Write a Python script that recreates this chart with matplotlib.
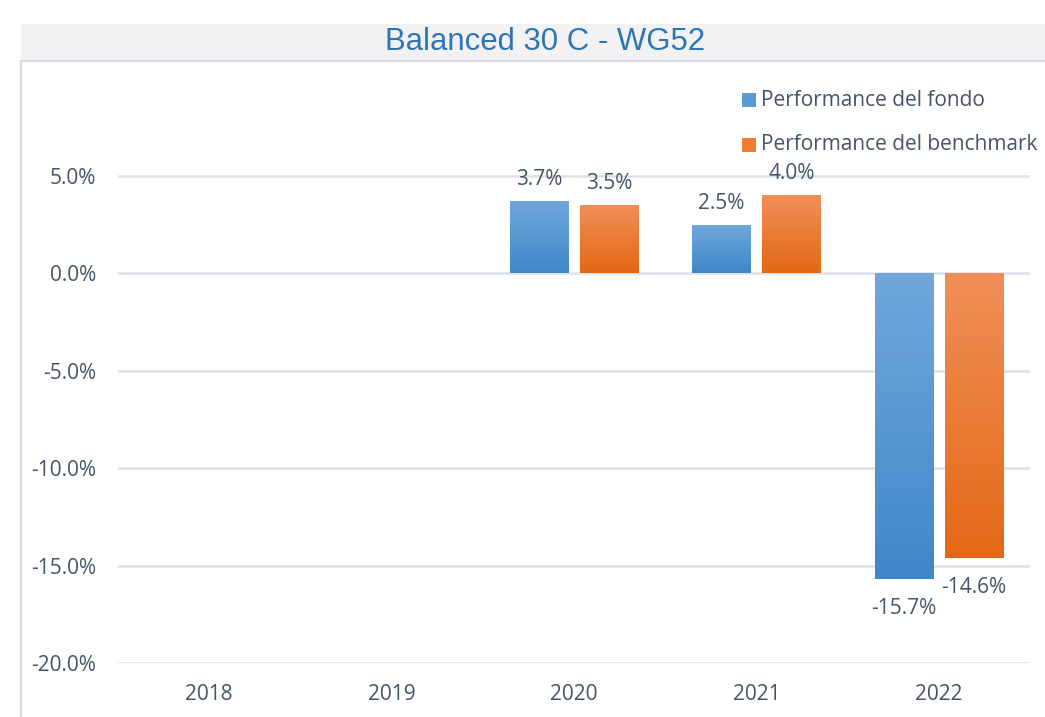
import numpy as np
import matplotlib
matplotlib.use("Agg")
import matplotlib.pyplot as plt
from matplotlib.patches import Rectangle
from matplotlib.lines import Line2D
from matplotlib.colors import LinearSegmentedColormap

# ---- data ----
title = "Balanced 30 C - WG52"
categories = ["2018", "2019", "2020", "2021", "2022"]
fund = [np.nan, np.nan, 3.7, 2.5, -15.7]
bench = [np.nan, np.nan, 3.5, 4.0, -14.6]
series_names = ["Performance del fondo", "Performance del benchmark"]
yticks = [5, 0, -5, -10, -15, -20]

text_color = "#44546a"
grid_color = "#dde2e9"
font = "Open Sans"
fs = 15

W, H = 1045, 717
fig = plt.figure(figsize=(W / 100, H / 100), dpi=100)
fig.patch.set_facecolor("white")

# Title band
fig.patches.append(Rectangle((21 / W, 1 - 61 / H), 1 - 21 / W, 37 / H,
                             transform=fig.transFigure, facecolor="#f2f2f2",
                             edgecolor="none", zorder=0))
fig.lines.append(Line2D([21 / W, 1], [1 - 61 / H, 1 - 61 / H], transform=fig.transFigure,
                        color="#d6dce4", lw=1.5))
fig.lines.append(Line2D([21 / W, 21 / W], [0, 1 - 61 / H], transform=fig.transFigure,
                        color="#d6dce4", lw=1.5))
fig.text(545 / W, 1 - 42 / H, title, ha="center", va="center", fontsize=22.4,
         color="#2e75b6", family="Liberation Sans")

left, right = 118 / W, 1030 / W
bottom, top = 1 - 663 / H, 1 - 78.5 / H
ax = fig.add_axes([left, bottom, right - left, top - bottom])
ax.set_facecolor("none")
for s in ax.spines.values():
    s.set_visible(False)
ax.set_yticks(yticks)
ax.set_yticklabels([f"{v:.1f}%" for v in yticks])
ax.set_xticks(range(len(categories)))
ax.set_xticklabels(categories)
ax.tick_params(axis="both", length=0, labelsize=fs, labelcolor=text_color)
ax.tick_params(axis="y", pad=16)
ax.tick_params(axis="x", pad=15)
for lab in ax.get_xticklabels() + ax.get_yticklabels():
    lab.set_family(font)
for v in yticks:
    ax.axhline(v, color=grid_color, lw=1.8, zorder=1)

x = np.arange(len(categories))
bw = 0.318
off = 0.192
fund_bars = ax.bar(x - off, fund, bw, color="#5b9bd5", zorder=2)
bench_bars = ax.bar(x + off, bench, bw, color="#ed7d31", zorder=2)

cm_blue = LinearSegmentedColormap.from_list("b", ["#71a7dc", "#3f87c8"])
cm_orange = LinearSegmentedColormap.from_list("o", ["#f18f58", "#e36816"])
grad = np.linspace(0, 1, 256).reshape(-1, 1)


def paint(bars, cmap):
    for p in bars:
        h = p.get_height()
        if np.isnan(h):
            continue
        x0, y0, w = p.get_x(), p.get_y(), p.get_width()
        y1 = y0 + h
        lo, hi = min(y0, y1), max(y0, y1)
        p.set_facecolor("none")
        im = ax.imshow(grad, cmap=cmap, aspect="auto", extent=(x0, x0 + w, lo, hi),
                       origin="upper", zorder=2)
        im.set_clip_path(p)


paint(fund_bars, cm_blue)
paint(bench_bars, cm_orange)
ax.set_xlim(-0.5, len(categories) - 0.5)
ax.set_ylim(-20, 10)


def labels(bars, vals):
    for p, v in zip(bars, vals):
        if np.isnan(v):
            continue
        cx = p.get_x() + p.get_width() / 2
        if v >= 0:
            dy, va = 11, "bottom"
        else:
            dy, va = -19, "top"
        ax.annotate(f"{v:.1f}%", (cx, v), xytext=(0, dy), textcoords="offset pixels",
                    ha="center", va=va, fontsize=fs, color=text_color, family=font,
                    annotation_clip=False)


labels(fund_bars, fund)
labels(bench_bars, bench)

# legend
leg_colors = ["#5b9bd5", "#ed7d31"]
for i, (name, c) in enumerate(zip(series_names, leg_colors)):
    yc = 1 - (100 + 45 * i) / H
    fig.patches.append(Rectangle((742 / W, yc - 7 / H), 14 / W, 14 / H,
                                 transform=fig.transFigure, facecolor=c, edgecolor="none"))
    fig.text(761 / W, yc, name, ha="left", va="center", fontsize=fs,
             color=text_color, family=font)

fig.savefig("out.png", dpi=100)
